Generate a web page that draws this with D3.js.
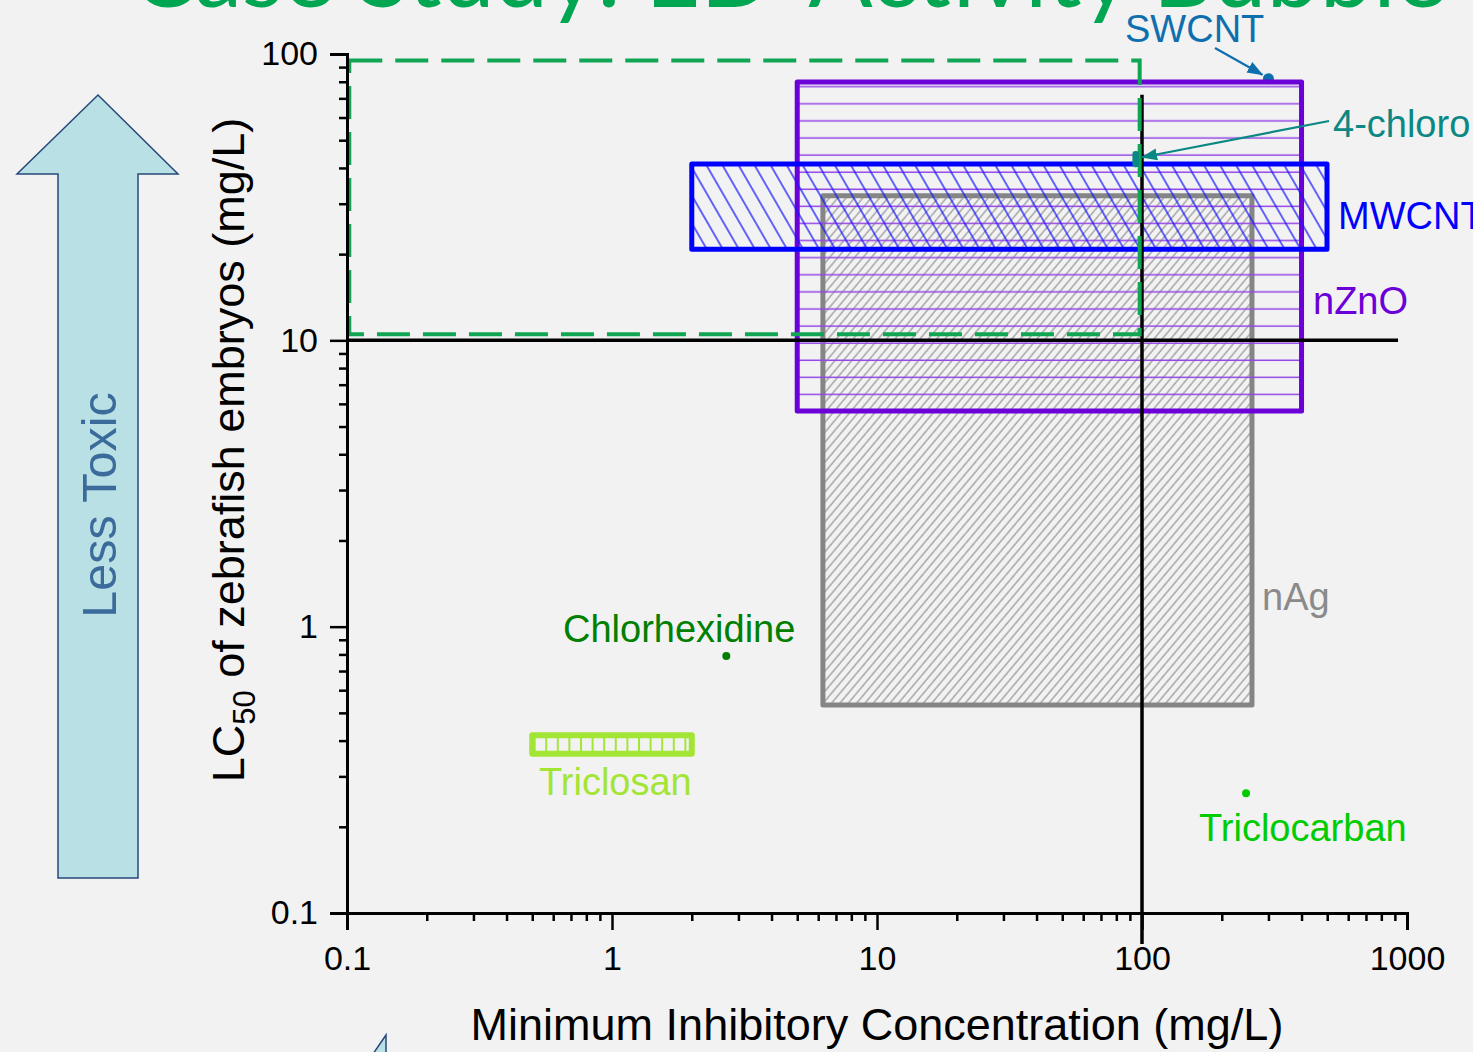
<!DOCTYPE html>
<html>
<head>
<meta charset="utf-8">
<script src="https://cdn.jsdelivr.net/npm/d3@7"></script>
<style>
  html, body { margin: 0; padding: 0; background: #f2f2f2; overflow: hidden; }
  svg { display: block; font-family: "Liberation Sans", Arial, sans-serif; }
</style>
</head>
<body>
<script>
// ---------------- DATA ----------------
const xTickValues = [0.1, 1, 10, 100, 1000];
const xTickLabels = ["0.1", "1", "10", "100", "1000"];
const yTickValues = [0.1, 1, 10, 100];
const yTickLabels = ["0.1", "1", "10", "100"];

// range boxes (MIC range on x, LC50 range on y)
const boxNames = ["nAg", "nZnO", "MWCNT", "Triclosan"];
const boxXmin  = [6.25, 5.0, 2.0, 0.5];
const boxXmax  = [260, 400, 499, 2.0];
const boxYmin  = [0.533, 5.67, 20.8, 0.36];
const boxYmax  = [32, 79.8, 41.3, 0.418];

// single-value compounds
const pointNames = ["SWCNT", "Chlorhexidine", "Triclocarban"];
const pointX     = [300, 2.7, 247];
const pointY     = [82, 0.79, 0.262];

// 4-chloro small range
const chloroName = "4-chloro";
const chloroX = [92, 97.5];
const chloroY = [40.2, 45.8];

// target region (dashed) and reference lines
const targetX = [0.102, 98];
const targetY = [10.5, 95];
const refMIC = 100;
const refMICy = [72, 0.078];
const refLC50 = 10;
const refLC50x = [0.1, 925];

// ---------------- STYLE / LAYOUT ----------------
const W = 1473, H = 1052;
const x = d3.scaleLog().domain([0.1, 1000]).range([347, 1407]);
const y = d3.scaleLog().domain([0.1, 100]).range([913, 54]);

const boxStroke = { nAg: "#858585", nZnO: "#6c00d8", MWCNT: "#0000ff", Triclosan: "#a3e535" };
const boxWidth = { nAg: 5, nZnO: 5, MWCNT: 5, Triclosan: 6 };
const pointColor = { SWCNT: "#0f6fae", Chlorhexidine: "#007f00", Triclocarban: "#00cc00" };
const chloroColor = "#0b8883";

const svg = d3.select("body").append("svg").attr("width", W).attr("height", H);
const defs = svg.append("defs");

// hatch patterns
function linePattern(id, spacing, angle, color, width, offset) {
  const p = defs.append("pattern").attr("id", id)
    .attr("patternUnits", "userSpaceOnUse")
    .attr("width", spacing).attr("height", spacing)
    .attr("patternTransform", `rotate(${angle})`);
  p.append("line").attr("x1", offset).attr("x2", offset).attr("y1", -1).attr("y2", spacing + 1)
    .attr("stroke", color).attr("stroke-width", width);
}
linePattern("hatch-nAg", 6.4, 40, "#8a8a8a", 1.1, 1);
linePattern("hatch-MWCNT", 13.9, -30, "#1515ff", 1.3, 1);
linePattern("hatch-Triclosan", 11.6, 0, "#a3e535", 2, 1);
(function () {
  const p = defs.append("pattern").attr("id", "hatch-nZnO")
    .attr("patternUnits", "userSpaceOnUse").attr("width", 20).attr("height", 17.1);
  p.append("line").attr("x1", -1).attr("x2", 21).attr("y1", 1.2).attr("y2", 1.2)
    .attr("stroke", "#9447e6").attr("stroke-width", 1.5);
})();

function arrowMarker(id, color) {
  defs.append("marker").attr("id", id)
    .attr("viewBox", "0 0 16 12").attr("refX", 15).attr("refY", 6)
    .attr("markerUnits", "userSpaceOnUse").attr("markerWidth", 16).attr("markerHeight", 12)
    .attr("orient", "auto")
    .append("path").attr("d", "M0,0 L16,6 L0,12 Z").attr("fill", color);
}
arrowMarker("arr-sw", pointColor.SWCNT);
arrowMarker("arr-cl", chloroColor);

// ---------------- TITLE (cropped) ----------------
const title = svg.append("text")
  .attr("x", 131).attr("y", 7)
  .attr("fill", "#00a651")
  .style("font-family", "Lato, 'Liberation Sans', sans-serif")
  .attr("font-size", 100)
  .text("Case Study: ED-Activity Bubble");
const tl = title.node().getComputedTextLength();
title.attr("font-size", 100 * 1315 / tl);

// ---------------- LESS TOXIC ARROW ----------------
svg.append("polygon")
  .attr("points", "98,95 178,174 138,174 138,878 58,878 58,174 17,174")
  .attr("fill", "#b9e0e4").attr("stroke", "#27487a").attr("stroke-width", 1.5);
svg.append("text")
  .attr("transform", "translate(116,505) rotate(-90)")
  .attr("text-anchor", "middle").attr("font-size", 48.5).attr("fill", "#3a6b9b")
  .text("Less Toxic");
// partially visible arrow at bottom
svg.append("polygon")
  .attr("points", "386,1035 386,1070 362,1070")
  .attr("fill", "#b9e0e4").attr("stroke", "#27487a").attr("stroke-width", 1.5);

// ---------------- SWCNT marker (below nZnO border) ----------------
const pts = pointNames.map((n, i) => ({ name: n, x: pointX[i], y: pointY[i] }));
svg.append("circle").attr("cx", x(pts[0].x)).attr("cy", y(pts[0].y)).attr("r", 5.5)
  .attr("fill", pointColor.SWCNT);

// ---------------- BOXES ----------------
const boxes = boxNames.map((n, i) => ({ name: n, x0: boxXmin[i], x1: boxXmax[i], y0: boxYmin[i], y1: boxYmax[i] }));
svg.append("g").selectAll("rect").data(boxes).join("rect")
  .attr("x", d => x(d.x0)).attr("y", d => y(d.y1))
  .attr("width", d => x(d.x1) - x(d.x0)).attr("height", d => y(d.y0) - y(d.y1))
  .attr("fill", d => `url(#hatch-${d.name})`)
  .attr("stroke", d => boxStroke[d.name])
  .attr("stroke-width", d => boxWidth[d.name])
  .attr("stroke-linejoin", "round");

// ---------------- REFERENCE LINES ----------------
svg.append("line")
  .attr("x1", x(refMIC)).attr("x2", x(refMIC))
  .attr("y1", y(refMICy[0])).attr("y2", y(refMICy[1]))
  .attr("stroke", "#000").attr("stroke-width", 3.5);
svg.append("line")
  .attr("x1", x(refLC50x[0])).attr("x2", x(refLC50x[1]))
  .attr("y1", y(refLC50)).attr("y2", y(refLC50))
  .attr("stroke", "#000").attr("stroke-width", 3.5);

// ---------------- TARGET REGION (dashed) ----------------
svg.append("rect")
  .attr("x", x(targetX[0])).attr("y", y(targetY[1]))
  .attr("width", x(targetX[1]) - x(targetX[0])).attr("height", y(targetY[0]) - y(targetY[1]))
  .attr("fill", "none").attr("stroke", "#0fa552").attr("stroke-width", 4)
  .attr("stroke-dasharray", "33,13");

// ---------------- AXES ----------------
function minorTicks(lo, hi) {
  const out = [];
  for (let e = lo; e < hi; e++) for (let m = 2; m <= 9; m++) out.push(m * Math.pow(10, e));
  return out;
}
const gx = svg.append("g").attr("transform", `translate(0,${y(0.1)})`);
gx.call(d3.axisBottom(x).tickValues(xTickValues).tickFormat((d, i) => xTickLabels[i]).tickSize(17).tickPadding(16));
const gxm = svg.append("g").attr("transform", `translate(0,${y(0.1)})`);
gxm.call(d3.axisBottom(x).tickValues(minorTicks(-1, 3)).tickFormat("").tickSize(8));
gxm.select(".domain").remove();

const gy = svg.append("g").attr("transform", `translate(${x(0.1)},0)`);
gy.call(d3.axisLeft(y).tickValues(yTickValues).tickFormat((d, i) => yTickLabels[i]).tickSize(17).tickPadding(12));
const gym = svg.append("g").attr("transform", `translate(${x(0.1)},0)`);
gym.call(d3.axisLeft(y).tickValues(minorTicks(-1, 2)).tickFormat("").tickSize(8));
gym.select(".domain").remove();

svg.selectAll(".domain").attr("stroke", "#000").attr("stroke-width", 3);
svg.selectAll(".tick line").attr("stroke", "#000").attr("stroke-width", 2.5);
svg.selectAll(".tick text").attr("fill", "#000").attr("font-size", 34)
  .style("font-family", "'Liberation Sans', Arial, sans-serif");
gx.selectAll(".tick text").attr("dy", "0.71em");

// ---------------- AXIS TITLES ----------------
svg.append("text")
  .attr("x", (x(0.1) + x(1000)) / 2).attr("y", 1040)
  .attr("text-anchor", "middle").attr("font-size", 45).attr("fill", "#000")
  .text("Minimum Inhibitory Concentration (mg/L)");
const yt = svg.append("text")
  .attr("transform", "translate(244,450) rotate(-90)")
  .attr("text-anchor", "middle").attr("font-size", 45).attr("fill", "#000");
yt.append("tspan").text("LC");
yt.append("tspan").attr("font-size", 31).attr("dy", 11).text("50");
yt.append("tspan").attr("dy", -11).text(" of zebrafish embryos (mg/L)");

// ---------------- POINTS ----------------
svg.append("g").selectAll("circle").data(pts.slice(1)).join("circle")
  .attr("cx", d => x(d.x)).attr("cy", d => y(d.y)).attr("r", 4)
  .attr("fill", d => pointColor[d.name]);

// 4-chloro small range marker
svg.append("rect")
  .attr("x", x(chloroX[0])).attr("y", y(chloroY[1]))
  .attr("width", x(chloroX[1]) - x(chloroX[0])).attr("height", y(chloroY[0]) - y(chloroY[1]))
  .attr("rx", 3).attr("fill", chloroColor);

// ---------------- LABELS ----------------
const labelFont = 38;
function label(txt, lx, ly, color) {
  svg.append("text").attr("x", lx).attr("y", ly).attr("font-size", labelFont)
    .attr("fill", color).text(txt);
}
label("SWCNT", 1125, 42, pointColor.SWCNT);
label("4-chloro", 1333, 137, chloroColor);
label("MWCNT", 1338, 229, boxStroke.MWCNT);
label("nZnO", 1313, 314, boxStroke.nZnO);
label("nAg", 1262, 610, "#8a8a8a");
label("Chlorhexidine", 563, 642, pointColor.Chlorhexidine);
label("Triclosan", 539, 795, "#a3e535");
label("Triclocarban", 1199, 841, pointColor.Triclocarban);

// annotation arrows
svg.append("line")
  .attr("x1", 1215).attr("y1", 48)
  .attr("x2", x(pts[0].x) - 6).attr("y2", y(pts[0].y) - 4)
  .attr("stroke", pointColor.SWCNT).attr("stroke-width", 2.2)
  .attr("marker-end", "url(#arr-sw)");
svg.append("line")
  .attr("x1", 1329).attr("y1", 121)
  .attr("x2", x(chloroX[1]) + 3).attr("y2", y(Math.sqrt(chloroY[0] * chloroY[1])) - 2)
  .attr("stroke", chloroColor).attr("stroke-width", 2.2)
  .attr("marker-end", "url(#arr-cl)");
</script>
</body>
</html>
